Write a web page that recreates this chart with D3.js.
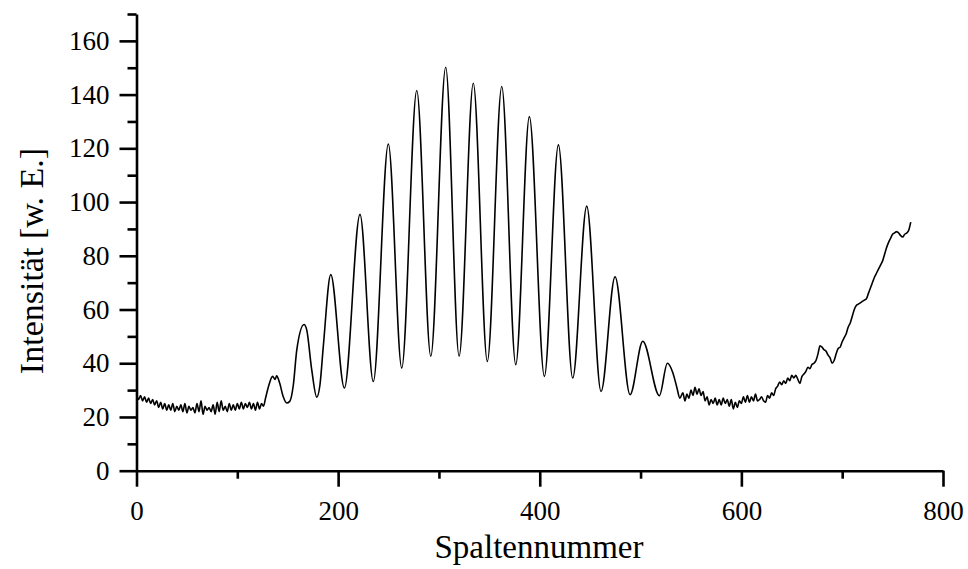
<!DOCTYPE html>
<html>
<head>
<meta charset="utf-8">
<script src="https://cdn.jsdelivr.net/npm/d3@7"></script>
<style>
  html, body { margin: 0; padding: 0; background: #fff; }
  svg { display: block; }
</style>
</head>
<body>
<svg id="chart" width="968" height="569"></svg>
<script>
// ---- data ----
const columns = [
  0,2,4,6,8,10,12,14,16,18,20,22,24,26,28,30,32,34,36,38,40,42,44,46,48,50,52,54,56,58,60,62,64,66,68,70,72,74,76,78,80,82,84,86,88,90,92,94,96,98,100,102,104,106,108,110,112,114,116,118,120,122,124,126,
  128,131,135,137.5,139,142,145.5,149,152,155.6,159,166.2,168.8,173.8,178.8,182,185.3,192.7,206.2,221.7,234.9,249.8,263.1,278,291.9,306.7,320,334.1,348,362.3,376.2,389.7,404.6,418.5,432.7,446.6,460.8,474.7,489.6,502.2,518.7,526.6,
  532,536,539,
  542,544,546,548,550,552,554,556,558,560,562,564,566,568,570,572,574,576,578,580,582,584,586,588,590,592,594,596,598,600,602,604,606,608,610,612,614,616,618,620,622,624,626,628,630,632,634,636,638,640,642,644,646,648,650,652,654,656,658,660,662,664,666,668,670,672,674,676,678,680,682,684,686,688,690,692,694,696,698,700,702,704,706,708,710,712,714,716,718,720,722,724,726,728,730,732,734,736,738,740,742,744,746,748,750,752,754,756,758,760,762,764,766,768
];
const intensity = [
  28.5,26.5,28,26,27.5,25.5,27,25,26.5,24.5,26,23.5,25.5,23,25,22.5,24.5,22.5,25,22,24,22.5,24.5,22,25,21.5,24,22.5,23.5,21.5,25,22,26,21,24,22.5,23.5,22,24.5,21,25.5,22,26,22.5,24,22,25,22.5,24.5,22.5,25,23,25.5,23,25,23.5,25.5,23,25,22.5,25.5,23,25,24,
  27,31.4,35.1,34,35.3,32.6,27.6,25.2,25.8,32,45,54.4,52.5,37.6,27.4,32,46.3,73,30.8,95.4,33.2,121.6,38.2,141.5,42.6,150.2,42.6,144.2,40.7,143,39.5,131.8,35.1,121.3,34.5,98.5,29.5,72.2,28.3,48.2,27.9,40,
  36.5,31,27,
  29,26,28.5,27,30,28,31,28.5,30.5,28,29.5,26,27.5,24.5,26.5,25,27,24.5,26.5,24.5,27,25,26.5,24,26.5,23,25.5,23.5,26,25,27.5,25.5,28,25.5,27.5,26,28.5,26,26.5,27.5,26,25.5,28,27,29,28,30.5,31.5,33,32,33.5,32.5,34.5,33.5,35.5,34.5,35.5,34,32.5,35,36,37,38.5,38,39.5,40,41,43.5,46.5,46,45,44.5,43,42,40,41,43.5,45.5,46,48,49.5,51,53.5,55,57.5,60,61.5,62,62.5,63,63.5,64,66,68,70,72,73.5,75,76.5,78,80.5,83,85,86.5,88,88.5,89,88.5,87.5,87,88,88.5,89.5,92.5
];
const xMajorTicks = [0, 200, 400, 600, 800];
const xMinorTicks = [100, 300, 500, 700];
const yMajorTicks = [0, 20, 40, 60, 80, 100, 120, 140, 160];
const yMinorTicks = [10, 30, 50, 70, 90, 110, 130, 150, 170];
const xTitle = "Spaltennummer";
const yTitle = "Intensität [w. E.]";

// ---- drawing ----
const svg = d3.select("#chart");
const FONT = "'Liberation Serif', 'Times New Roman', serif";

const x = d3.scaleLinear().domain([0, 800]).range([136.5, 943]);
const y = d3.scaleLinear().domain([0, 170]).range([470.7, 14]);

const points = columns.map((c, i) => [c, intensity[i]]);

const line = d3.line()
  .x(d => x(d[0]))
  .y(d => y(d[1]))
  .curve(d3.curveMonotoneX);

svg.append("path")
  .datum(points)
  .attr("fill", "none")
  .attr("stroke", "#000")
  .attr("stroke-width", 1.6)
  .attr("stroke-linejoin", "round")
  .attr("d", line);

// X axis
const xAxisG = svg.append("g").attr("transform", `translate(0,${y(0)})`);
xAxisG.call(d3.axisBottom(x).tickValues(xMajorTicks).tickSize(16).tickSizeOuter(0).tickPadding(14).tickFormat(d3.format("d")));
xAxisG.append("g").call(d3.axisBottom(x).tickValues(xMinorTicks).tickSize(8).tickSizeOuter(0).tickFormat(""))
  .select(".domain").remove();

// Y axis
const yAxisG = svg.append("g").attr("transform", `translate(${x(0)},0)`);
yAxisG.call(d3.axisLeft(y).tickValues(yMajorTicks).tickSize(17).tickSizeOuter(0).tickPadding(10).tickFormat(d3.format("d")));
yAxisG.append("g").call(d3.axisLeft(y).tickValues(yMinorTicks).tickSize(9).tickSizeOuter(0).tickFormat(""))
  .select(".domain").remove();

svg.selectAll("g").attr("font-family", FONT);
svg.selectAll(".domain, .tick line")
  .attr("stroke", "#000")
  .attr("stroke-width", 2.6);
svg.selectAll(".tick text")
  .attr("fill", "#000")
  .attr("font-family", FONT)
  .style("font-family", FONT)
  .style("font-size", "27px");

// Titles
svg.append("text")
  .attr("x", 539).attr("y", 558)
  .attr("text-anchor", "middle")
  .style("font-family", FONT)
  .style("font-size", "33px")
  .attr("fill", "#000")
  .text(xTitle);

svg.append("text")
  .attr("transform", "translate(43,261) rotate(-90)")
  .attr("text-anchor", "middle")
  .style("font-family", FONT)
  .style("font-size", "34px")
  .attr("fill", "#000")
  .text(yTitle);
</script>
</body>
</html>
